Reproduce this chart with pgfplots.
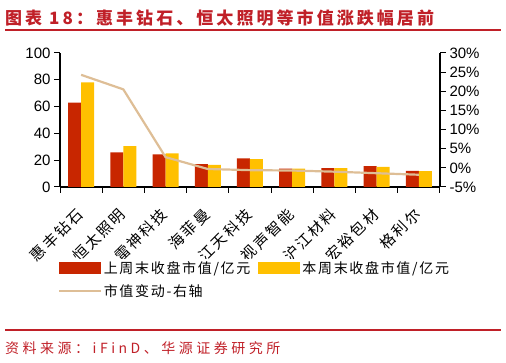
\documentclass[border=0pt]{standalone}
\usepackage{fontspec}
\setmainfont{Liberation Sans}
\newfontfamily\cjk{Noto Sans CJK SC}
\newfontfamily\cjktitle[LetterSpace=18]{Noto Sans CJK SC}
\newfontfamily\cjkleg[LetterSpace=12]{Noto Sans CJK SC}
\newfontfamily\cjklab[LetterSpace=15]{Noto Sans CJK SC}
\newfontfamily\cjksrc[LetterSpace=25]{Noto Sans CJK SC}
\usepackage{pgfplots}
\usepackage{pgfplotstable}
\pgfplotsset{compat=1.18}
\definecolor{barred}{RGB}{200,38,0}
\definecolor{baryel}{RGB}{255,192,0}
\definecolor{linetan}{RGB}{222,190,150}
\definecolor{titlered}{RGB}{192,32,40}
\pgfplotstableread{
x last this chg
0 63 78 24.3
1 25.8 30.5 20.5
2 24.3 25 2.8
3 17 16.5 -0.3
4 21.3 20.8 -0.6
5 13.8 13.8 -0.7
6 14 14 -1.0
7 15.5 15 -1.4
8 12 11.8 -1.8
}\data
\begin{document}
\begin{tikzpicture}
\path[use as bounding box] (0pt,0pt) rectangle (506pt,363pt);
\node[anchor=west, text=titlered, font=\cjktitle\bfseries\fontsize{17}{17}\selectfont, inner sep=0pt] at (5pt,345pt) {图表 18：惠丰钻石、恒太照明等市值涨跌幅居前};
\draw[titlered, line width=1.5pt] (5pt,333pt) -- (501pt,333pt);
\begin{axis}[at={(60pt,176pt)}, anchor=south west, width=380pt, height=134pt, scale only axis,
  ybar=0pt, bar width=13pt, xmin=-0.5, xmax=8.5, ymin=0, ymax=100, ytick={0,20,...,100},
  xtick={0,...,8}, xticklabels={惠丰钻石,恒太照明,雷神科技,海菲曼,江天科技,视声智能,沪江材料,宏裕包材,格利尔},
  minor xtick={-0.5,0.5,...,8.5},
  axis x line*=bottom, axis y line*=left, axis line style={-, line width=1.2pt, black},
  tick align=outside, major tick length=6pt, minor tick length=6pt,
  tick style={black, line width=1pt},
  major x tick style={draw=none},
  xticklabel shift=12pt,
  x tick label style={xshift=-6pt, rotate=45, anchor=north east, font=\cjklab\fontsize{15}{15}\selectfont, inner sep=1pt},
  y tick label style={font=\fontsize{15}{15}\selectfont},
  /pgf/number format/assume math mode=true,
  legend columns=2, legend cell align=left,
  legend style={at={(-0.005,-0.537)}, anchor=north west, draw=none, inner sep=0pt, row sep=6pt,
    font=\cjkleg\fontsize{14}{14}\selectfont,
    /tikz/every even column/.append style={column sep=6pt}},
]
\addplot[fill=barred, draw=none, legend image code/.code={\fill[barred] (0pt,-6pt) rectangle (42pt,6pt);}] table[x=x,y=last]{\data};
\addlegendentry{上周末收盘市值/亿元}
\addplot[fill=baryel, draw=none, legend image code/.code={\fill[baryel] (0pt,-6pt) rectangle (42pt,6pt);}] table[x=x,y=this]{\data};
\addlegendentry{本周末收盘市值/亿元}
\addlegendimage{linetan, line width=1.5pt, legend image code/.code={\draw[linetan, line width=1.5pt] (0pt,0pt) -- (42pt,0pt);}}
\addlegendentry{市值变动-右轴}
\end{axis}
\begin{axis}[at={(60pt,176pt)}, anchor=south west, width=380pt, height=134pt, scale only axis,
  xmin=-0.5, xmax=8.5, ymin=-5, ymax=30, ytick={-5,0,...,30},
  axis y line*=right, hide x axis, axis line style={-, line width=1.2pt, black},
  tick align=outside, major tick length=6pt, tick style={black, line width=1pt},
  yticklabel={\pgfmathprintnumber{\tick}\%},
  y tick label style={font=\fontsize{15}{15}\selectfont},
  /pgf/number format/assume math mode=true,
]
\addplot[linetan, line width=2.2pt] table[x=x,y=chg]{\data};
\end{axis}
\draw[titlered, line width=1.5pt] (5pt,33pt) -- (501pt,33pt);
\node[anchor=west, text=titlered, font=\cjksrc\fontsize{14}{14}\selectfont, inner sep=0pt] at (5pt,15pt) {资料来源：iFinD、华源证券研究所};
\end{tikzpicture}
\end{document}
